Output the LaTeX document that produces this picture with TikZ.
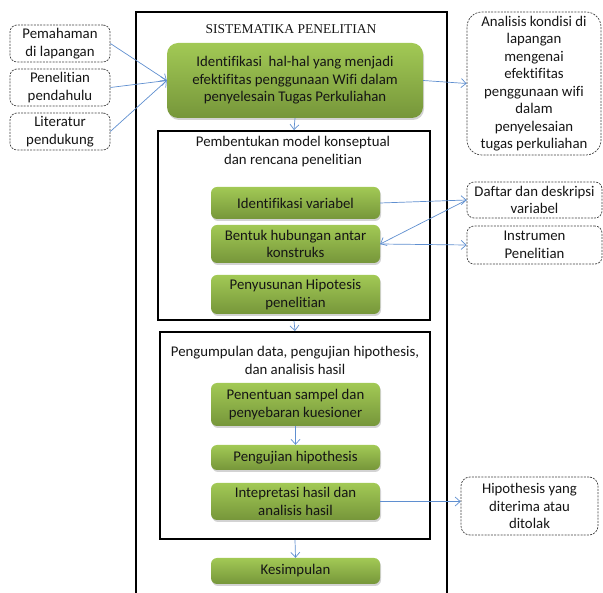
\documentclass[tikz,border=0pt]{standalone}
\usepackage{fontspec}
\setmainfont{Carlito}[Ligatures={NoCommon}]
\newfontfamily\titlefont{Liberation Serif}
\usetikzlibrary{arrows.meta,shadows}
\definecolor{gtop}{HTML}{A2C955}
\definecolor{gbot}{HTML}{76963A}
\definecolor{arr}{HTML}{5F8FD0}
\definecolor{dash}{HTML}{404040}
\definecolor{txt}{HTML}{151515}
\tikzset{
  gbox/.style={rounded corners=6pt, top color=gtop, bottom color=gbot, draw=none,
    drop shadow={opacity=0.35, shadow xshift=1pt, shadow yshift=-2pt},
    align=center, inner sep=2pt, font=\fontsize{14.8}{17.5}\selectfont, text=txt},
  dbox/.style={rounded corners=7pt, draw=dash, dashed, dash pattern=on 2pt off 1.2pt, line width=0.7pt,
    align=center, inner sep=2pt, font=\fontsize{14.8}{17.5}\selectfont, text=txt},
  subbox/.style={draw=black, line width=2pt},
  conn/.style={draw=arr, line width=0.7pt, -{Straight Barb[length=5pt,width=9pt]}},
}
\begin{document}
\begin{tikzpicture}[x=1pt,y=-1pt]
\useasboundingbox (0,0) rectangle (603,593);
% outer frame
\draw[line width=2pt] (136,593) -- (136,12) -- (447,12) -- (447,593);
\node[font=\titlefont\fontsize{13.5}{16}\selectfont, text=txt] (title) at (291,29) {SISTEMATIKA PENELITIAN};
% left boxes
\node[dbox, minimum width=100pt, minimum height=37pt] (lb1) at (60,43.5) {Pemahaman\\di lapangan};
\node[dbox, minimum width=100pt, minimum height=37pt] (lb2) at (60,87.5) {Penelitian\\pendahulu};
\node[dbox, minimum width=100pt, minimum height=37pt] (lb3) at (60,131.5) {Literatur\\pendukung};
% top green box
\node[gbox, minimum width=256pt, minimum height=75pt, rounded corners=11pt] (g0) at (295,80.5)
  {Identifikasi\ \ hal-hal yang menjadi\\efektifitas penggunaan Wifi dalam\\penyelesain Tugas Perkuliahan};
\node[dbox, rounded corners=15pt, minimum width=134pt, minimum height=143pt] (rt) at (534,83.5)
  {Analisis kondisi di\\lapangan\\mengenai\\efektifitas\\penggunaan wifi\\dalam\\penyelesaian\\tugas perkuliahan};
% sub box 1
\node[subbox, minimum width=272pt, minimum height=189pt] (sub1) at (294,225.5) {};
\node[align=center, font=\fontsize{14.8}{18}\selectfont, text=txt] (sub1t) at (293,152) {Pembentukan model konseptual\\dan rencana penelitian};
\node[gbox, minimum width=169pt, minimum height=32pt] (g1) at (295.5,203) {Identifikasi variabel};
\node[gbox, minimum width=169pt, minimum height=38pt] (g2) at (295.5,244) {Bentuk hubungan antar\\konstruks};
\node[gbox, minimum width=169pt, minimum height=39pt] (g3) at (295.5,294.5) {Penyusunan Hipotesis\\penelitian};
\node[dbox, minimum width=135pt, minimum height=36pt] (rd1) at (534.5,200) {Daftar dan deskripsi\\variabel};
\node[dbox, minimum width=135pt, minimum height=38pt] (rd2) at (534.5,245) {Instrumen\\Penelitian};
% sub box 2
\node[subbox, minimum width=270pt, minimum height=207pt] (sub2) at (295,435.5) {};
\node[align=center, font=\fontsize{14.8}{18}\selectfont, text=txt] (sub2t) at (295,360) {Pengumpulan data, pengujian hipothesis,\\dan analisis hasil};
\node[gbox, minimum width=169pt, minimum height=43pt] (g4) at (295.5,404.5) {Penentuan sampel dan\\penyebaran kuesioner};
\node[gbox, minimum width=169pt, minimum height=25pt] (g5) at (295.5,457.5) {Pengujian hipothesis};
\node[gbox, minimum width=169pt, minimum height=37pt] (g6) at (295.5,501.5) {Intepretasi hasil dan\\analisis hasil};
\node[dbox, minimum width=137pt, minimum height=58pt, rounded corners=9pt] (rh) at (529.5,506) {Hipothesis yang\\diterima atau\\ditolak};
\node[gbox, minimum width=169pt, minimum height=26pt] (g7) at (295.5,571) {Kesimpulan};
% connectors
\draw[conn] (lb1.east) -- (g0.west);
\draw[conn] (lb2.east) -- (g0.west);
\draw[conn] (lb3.east) -- (g0.west);
\draw[conn] (g0.east) -- (rt.west);
\draw[conn] (g0.south) -- (sub1.north);
\draw[conn] (g1.east) -- (rd1.west);
\draw[conn] (rd1.west) -- (g2.east);
\draw[conn] (g2.east) -- (rd2.west);
\draw[conn] (sub1.south) -- (sub2.north);
\draw[conn] (g4.south) -- (g5.north);
\draw[conn] (g6.east) -- (g6.east -| rh.west);
\draw[conn] (sub2.south) -- (g7.north);
\end{tikzpicture}
\end{document}
